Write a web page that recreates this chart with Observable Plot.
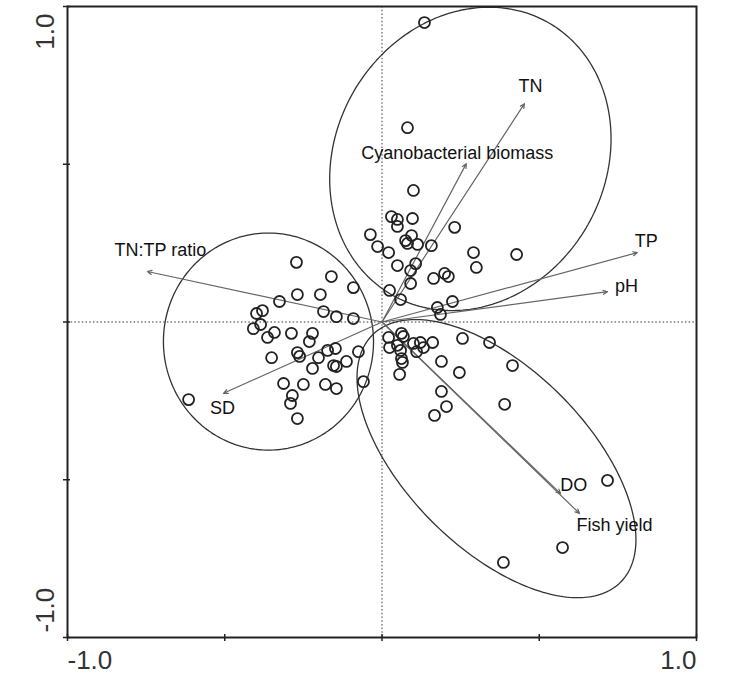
<!DOCTYPE html>
<html><head><meta charset="utf-8">
<script src="https://cdn.jsdelivr.net/npm/d3@7"></script>
<script src="https://cdn.jsdelivr.net/npm/@observablehq/plot@0.6"></script>
<style>
body{margin:0;background:#fff;}
#chart{width:750px;height:681px;}
</style></head><body><div id="chart"></div>
<script>
// Site scores (axis 1, axis 2)
const siteX = [
  -0.272,-0.161,-0.091,-0.269,-0.196,-0.326,-0.380,-0.399,-0.186,-0.145,-0.091,-0.386,-0.409,-0.342,-0.364,-0.288,-0.221,-0.231,-0.148,-0.173,-0.075,-0.351,-0.269,-0.262,-0.202,-0.113,-0.154,-0.145,-0.221,-0.059,-0.313,-0.250,-0.180,-0.145,-0.285,-0.291,-0.269,-0.615,
  0.135,0.081,0.100,0.030,0.049,0.097,0.049,0.231,-0.037,0.094,0.075,0.081,0.113,-0.014,0.157,0.021,0.291,0.428,0.049,0.107,0.091,0.300,0.164,0.199,0.211,0.091,0.024,0.059,0.224,0.176,0.186,
  0.021,0.062,0.068,0.024,0.049,0.100,0.122,0.132,0.110,0.161,0.059,0.062,0.065,0.056,0.256,0.342,0.189,0.246,0.415,0.189,0.205,0.167,0.390,0.717,0.574,0.386
];
const siteY = [
  0.189,0.144,0.109,0.087,0.087,0.065,0.036,0.027,0.033,0.017,0.011,-0.008,-0.021,-0.033,-0.049,-0.036,-0.036,-0.062,-0.084,-0.090,-0.094,-0.113,-0.097,-0.109,-0.113,-0.125,-0.138,-0.141,-0.147,-0.189,-0.195,-0.198,-0.198,-0.211,-0.233,-0.258,-0.306,-0.246,
  0.949,0.616,0.417,0.334,0.325,0.328,0.303,0.300,0.277,0.274,0.258,0.249,0.246,0.239,0.242,0.220,0.220,0.214,0.179,0.185,0.163,0.173,0.138,0.154,0.144,0.122,0.100,0.071,0.065,0.046,0.024,
  -0.049,-0.036,-0.046,-0.081,-0.074,-0.068,-0.065,-0.081,-0.094,-0.065,-0.090,-0.116,-0.128,-0.166,-0.052,-0.065,-0.125,-0.160,-0.138,-0.220,-0.268,-0.296,-0.261,-0.502,-0.715,-0.762
];

// Environmental variable vectors
const varNames = ["TN","Cyanobacterial biomass","TP","pH","TN:TP ratio","SD","DO","Fish yield"];
const varX = [0.453, 0.268, 0.812, 0.717, -0.746, -0.504, 0.568, 0.628];
const varY = [0.692, 0.502, 0.220, 0.096, 0.160, -0.226, -0.544, -0.607];

// Group ellipses: centre, semi-axes, rotation (degrees)
const ellCx = [0.281, -0.361, 0.364];
const ellCy = [0.517, -0.062, -0.433];
const ellA  = [0.498, 0.334, 0.556];
const ellB  = [0.428, 0.344, 0.286];
const ellAngle = [59.3, 0, -44.7];

// Axis ticks
const xTicks = [-1, -0.5, 0, 0.5, 1];
const yTicks = [-1, -0.5, 0, 0.5, 1];
const tickLabels = [-1, 1];

// Label offsets (px) relative to arrow tips — styling
const labelDx = [6, -9, 9, 19, 13, -1, 13, 35];
const labelDy = [-17, -10, -11, -5, -21, 15, -8, 12];

const sites = siteX.map((x, i) => ({x, y: siteY[i]}));
const vars = varNames.map((name, i) => ({name, x: varX[i], y: varY[i], dx: labelDx[i], dy: labelDy[i]}));
const ellPts = [];
ellCx.forEach((cx, i) => {
  const phi = ellAngle[i] * Math.PI / 180;
  for (let k = 0; k < 240; k++) {
    const t = 2 * Math.PI * k / 240;
    const u = ellA[i] * Math.cos(t), v = ellB[i] * Math.sin(t);
    ellPts.push({g: i, x: cx + u * Math.cos(phi) - v * Math.sin(phi), y: ellCy[i] + u * Math.sin(phi) + v * Math.cos(phi)});
  }
});

const fmt = d => d.toFixed(1);
const font = "'Liberation Sans', Arial, sans-serif";

const plot = Plot.plot({
  width: 750, height: 681,
  marginLeft: 67, marginRight: 54, marginTop: 6, marginBottom: 44,
  x: {domain: [-1, 1], label: null},
  y: {domain: [-1, 1], label: null},
  style: {fontFamily: font, background: "#fff", overflow: "visible"},
  marks: [
    Plot.ruleX([0], {stroke: "#777", strokeWidth: 1.4, strokeDasharray: "1.5,2.2"}),
    Plot.ruleY([0], {stroke: "#777", strokeWidth: 1.4, strokeDasharray: "1.5,2.2"}),
    Plot.line(ellPts, {x: "x", y: "y", z: "g", curve: "linear-closed", stroke: "#333", strokeWidth: 1.3}),
    Plot.arrow(vars, {x1: () => 0, y1: () => 0, x2: "x", y2: "y", stroke: "#666", strokeWidth: 1.2, headLength: 6, headAngle: 50}),
    Plot.dot(sites, {x: "x", y: "y", r: 5.5, stroke: "#222", strokeWidth: 1.8, fill: "none"}),
    ...vars.map(v => Plot.text([v], {x: "x", y: "y", text: "name", dx: v.dx, dy: v.dy, fontSize: 18, fill: "#111", textAnchor: "middle", lineAnchor: "middle"})),
    Plot.frame({stroke: "#222", strokeWidth: 2}),
    Plot.axisX(xTicks, {tickSize: 7, dy: -3, tickFormat: () => "", label: null, stroke: "#222", strokeWidth: 1.5}),
    Plot.axisY(yTicks, {tickSize: 7, dx: 3, tickFormat: () => "", label: null, stroke: "#222", strokeWidth: 1.5}),
    Plot.axisX([tickLabels[0]], {tickSize: 0, tickPadding: 13, textAnchor: "start", lineAnchor: "top", fontSize: 26, fill: "#333", label: null, tickFormat: fmt}),
    Plot.axisX([tickLabels[1]], {tickSize: 0, tickPadding: 13, textAnchor: "end", lineAnchor: "top", fontSize: 26, fill: "#333", label: null, tickFormat: fmt}),
    Plot.axisY([tickLabels[1]], {tickSize: 0, tickPadding: 14, rotate: -90, textAnchor: "end", lineAnchor: "bottom", dy: 7, fontSize: 26, fill: "#333", label: null, tickFormat: fmt}),
    Plot.axisY([tickLabels[0]], {tickSize: 0, tickPadding: 14, rotate: -90, textAnchor: "start", lineAnchor: "bottom", dy: -5, fontSize: 26, fill: "#333", label: null, tickFormat: fmt})
  ]
});
document.getElementById("chart").appendChild(plot);
</script>
</body></html>
